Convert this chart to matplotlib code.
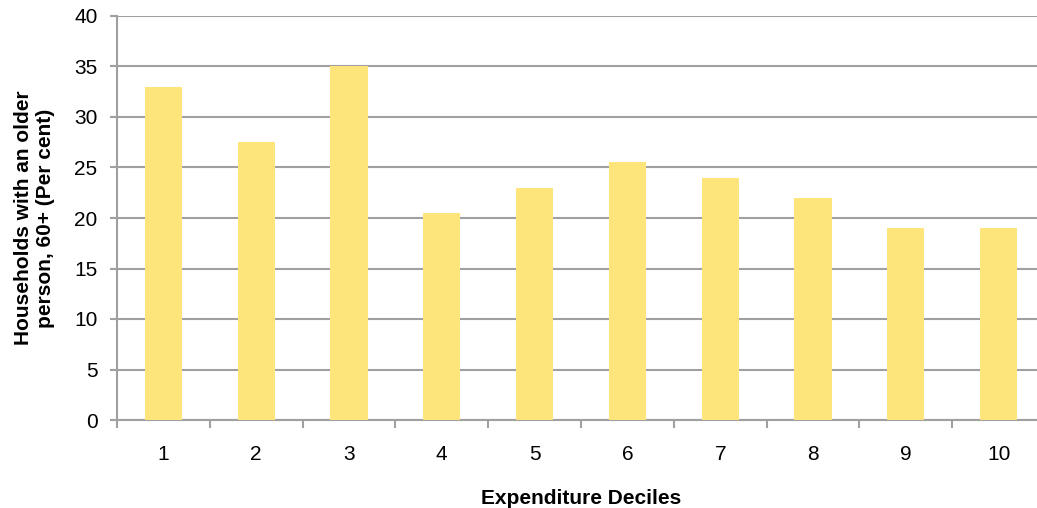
import matplotlib.pyplot as plt
import numpy as np

plt.rcParams['font.family'] = ['Liberation Sans', 'DejaVu Sans']

deciles = ['1', '2', '3', '4', '5', '6', '7', '8', '9', '10']
share_older = [33, 27.5, 35, 20.5, 23, 25.5, 24, 22, 19, 19]

W, H = 1037, 508
fig = plt.figure(figsize=(W / 100, H / 100), dpi=100)
ax = fig.add_axes([117 / W, (H - 420) / H, (1045 - 117) / W, (420 - 16) / H])

x = np.arange(1, len(deciles) + 1)
ax.bar(x, share_older, width=0.4, color='#fde57c', zorder=3)

ax.set_xlim(0.5, 10.5)
ax.set_ylim(0, 40)
ax.set_yticks(range(0, 41, 5))
ax.set_xticks(x)
ax.set_xticklabels(deciles)
ax.set_xticks(np.arange(0.5, 10.6, 1), minor=True)

grid_c = '#a0a0a0'
ax.yaxis.grid(True, color=grid_c, linewidth=1.5, zorder=0)
for s in ['top', 'right']:
    ax.spines[s].set_visible(False)
ax.spines['left'].set_color(grid_c)
ax.spines['bottom'].set_color(grid_c)
ax.spines['left'].set_linewidth(1.5)
ax.spines['bottom'].set_linewidth(1.5)

ax.tick_params(axis='y', length=5, width=1.5, color=grid_c, labelsize=15, pad=9)
ax.tick_params(axis='x', which='major', length=0, labelsize=15, pad=18)
ax.tick_params(axis='x', which='minor', length=6, width=1.5, color=grid_c)

ax.set_xlabel('Expenditure Deciles', fontsize=15, fontweight='bold', labelpad=18)
ax.set_ylabel('Households with an older\nperson, 60+ (Per cent)', fontsize=15,
              fontweight='bold', labelpad=14)

fig.savefig('out.png', dpi=100)
